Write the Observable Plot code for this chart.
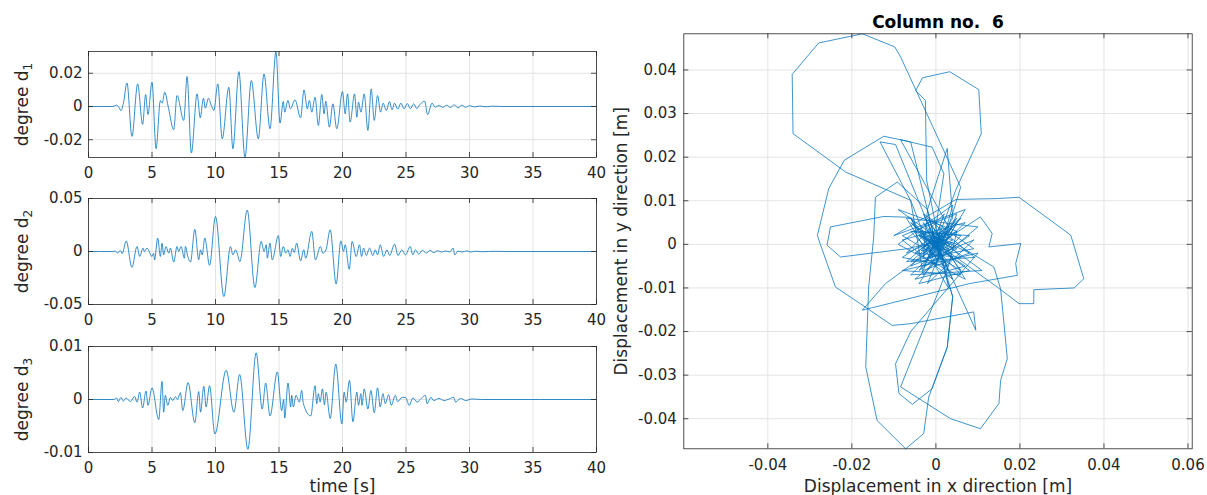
<!DOCTYPE html>
<html><head><meta charset="utf-8">
<script src="https://cdn.jsdelivr.net/npm/d3@7"></script>
<script src="https://cdn.jsdelivr.net/npm/@observablehq/plot@0.6"></script>
<style>
body{margin:0;background:#fff;}
#wrap{position:relative;width:1207px;height:495px;overflow:hidden;font-family:"DejaVu Sans",sans-serif;background:#fff;}
#wrap svg{position:absolute;overflow:visible;}
#wrap svg text{white-space:pre;}
</style></head><body><div id="wrap"></div>
<script>
// ---------- data ----------
const timeTicks = [0,5,10,15,20,25,30,35,40];
const d1Ticks = [-0.02, 0, 0.02];
const d2Ticks = [-0.05, 0, 0.05];
const d3Ticks = [-0.01, 0, 0.01];
const dispXTicks = [-0.04,-0.02,0,0.02,0.04,0.06];
const dispYTicks = [-0.04,-0.03,-0.02,-0.01,0,0.01,0.02,0.03,0.04];

// [time s, degree d1]
const degree1 = [[0,0],[1.9,0],[2.2,0.0008],[2.4,-0.0005],[2.55,-0.0025],[2.75,0.002],
[3.03,0.0142],[3.42,-0.018],[3.87,0.0136],[4.26,-0.0108],[4.5,0.0072],[4.68,-0.0048],[5.0,0.0146],[5.32,-0.0254],[5.66,0.0036],[5.8,0.002],[6.0,0.0086],[6.3,-0.001],[6.71,-0.014],[6.97,0.0066],[7.5,-0.0084],[7.76,0.018],[8.1,-0.028],[8.55,0.0076],[8.8,-0.0068],[9.05,0.005],[9.2,-0.001],[9.45,0.005],[9.65,0.001],[9.87,-0.0024],[10.18,0.0136],[10.53,-0.0194],[11.05,0.0116],[11.37,-0.0254],[11.84,0.021],[12.32,-0.0306],[12.82,0.0156],[13.37,-0.0194],[13.82,0.0196],[14.29,-0.0134],[14.76,0.033],[15.08,-0.01],[15.34,0.003],[15.45,-0.0034],[15.7,0.0036],[15.9,-0.0014],
[16.26,0.004],[16.7,-0.0068],[16.97,0.01],[17.23,-0.0014],[17.39,0.0036],[17.58,-0.0034],[17.84,0.0056],[18.1,-0.0114],[18.37,0.0072],[18.55,-0.0044],[18.68,0.0032],[18.97,-0.0124],[19.24,0.0016],[19.55,-0.0134],[20.0,0.009],[20.21,-0.0044],[20.4,0.0076],[20.6,-0.0094],[20.95,0.0076],[21.13,-0.0064],[21.26,0.0026],[21.45,-0.0034],[21.71,0.0076],[22.0,-0.0144],[22.26,0.0106],[22.5,-0.0084],[22.76,0.0066],[23.0,-0.0034],[23.2,0.002],[23.45,-0.0024],[23.7,0.003],[23.9,-0.002],[24.1,0.002],[24.35,-0.0016],[24.6,0.002],[24.85,-0.0014],[25.1,0.0018],[25.35,-0.0014],[25.6,0.0016],[25.85,-0.0012],[26.1,0.0012],[26.47,0.0032],[26.7,-0.0048],[27.05,0.002],[27.3,-0.0004],[27.6,0.0006],[27.9,-0.0005],[28.2,0.0008],[28.5,-0.0006],[28.8,0.001],[29.1,-0.0008],[29.4,0.0008],[29.7,-0.0005],[30.0,0.0005],[30.4,-0.0003],[30.8,0.0003],[31.3,-0.0002],[31.8,0.0002],[32.5,0],[40,0]];

// [time s, degree d2]
const degree2 = [[0,0],[1.9,0],[2.1,0.0005],[2.3,-0.0015],[2.5,0.001],[2.65,-0.002],
[2.97,0.010],[3.42,-0.015],[3.82,0.0047],[4.03,-0.0047],[4.29,0.0032],[4.4,0.0],[4.61,0.0032],[5.0,-0.0047],[5.13,-0.0016],[5.2,-0.008],[5.45,0.0126],[5.66,-0.0047],[5.79,0.0079],[5.92,-0.0032],[6.1,0.0047],[6.32,-0.0016],[6.45,0.0032],[6.71,-0.01],[6.97,0.0047],[7.1,0.0],[7.29,0.0047],[7.55,-0.0063],[7.63,0.0047],[7.82,-0.0047],[8.03,-0.01],[8.37,0.021],[8.68,-0.0079],[8.82,0.0016],[8.95,-0.0032],[9.16,0.0126],[9.53,-0.013],[10.0,0.033],[10.66,-0.0425],[11.18,0.0047],[11.37,-0.0032],[11.58,0.0016],[11.71,-0.0016],[11.92,-0.0095],[12.5,0.039],[13.1,-0.034],[13.6,0.0095],[13.82,0.0],[14.0,0.0063],[14.08,-0.0063],[14.29,0.0079],[14.47,-0.0079],[14.95,0.015],[15.13,-0.0047],[15.34,0.0047],[15.53,-0.0016],[15.71,0.0016],[15.87,-0.0047],[16.05,0.003],[16.2,-0.001],[16.39,0.0079],[16.7,-0.0088],[16.95,0.0016],[17.1,-0.0063],[17.58,0.019],[17.87,-0.0079],[18.26,0.0047],[18.45,-0.0016],[18.7,0.0016],[19.03,0.0205],[19.5,-0.0306],[19.87,0.01],[20.08,0.0],[20.21,0.0063],[20.53,-0.0167],[20.76,0.0095],[21.08,-0.0047],[21.34,0.0063],[21.5,-0.0047],[21.66,0.0032],[21.87,-0.0038],[22.13,0.0032],[22.39,-0.0038],[22.58,0.0016],[22.76,-0.0032],[22.97,0.0063],[23.24,-0.0047],[23.5,0.0016],[23.71,-0.0038],[24.1,0.0069],[24.37,-0.0038],[24.68,0.0016],[24.95,-0.0032],[25.34,0.0047],[25.53,-0.0032],[25.74,0.0016],[26.0,-0.0025],[26.3,0.0012],[26.6,-0.0015],[26.9,0.001],[27.2,-0.001],[27.5,0.0008],[27.8,-0.0006],[28.1,0.0005],[28.45,-0.0004],[28.71,0.0032],[28.84,-0.0032],[29.1,0.0005],[29.4,-0.0005],[29.8,0.0006],[30.1,-0.0005],[30.5,0.0003],[31,-0.0002],[32,0.0002],[33,0],[40,0]];

// [time s, degree d3]
const degree3 = [[0,0],[2.0,0],[2.2,0.0003],[2.35,-0.0004],[2.55,0.0004],[2.75,-0.0003],[2.95,0.0003],[3.3,-0.0004],[3.63,0.0006],[3.82,-0.0005],[4.03,0.0014],[4.26,-0.0016],[4.53,0.0016],[4.68,-0.0011],[5.0,0.0022],[5.53,-0.0038],[5.79,0.0034],[5.92,-0.0024],[6.05,0.0008],[6.24,-0.0011],[6.45,0.0004],[6.63,-0.0002],[6.85,0.0005],[7.0,0.0],[7.24,0.0013],[7.42,-0.0021],[7.84,0.0032],[8.37,-0.0044],[8.68,0.0015],[8.82,-0.0024],[9.08,0.0025],[9.26,-0.0014],[9.53,0.0026],[9.95,-0.0065],[10.84,0.0055],[11.45,-0.0024],[11.9,0.0047],[12.55,-0.0094],[13.2,0.0088],[13.68,-0.0018],[13.95,0.0031],[14.29,-0.0031],[14.87,0.0052],[15.21,-0.0021],[15.37,0.0],[15.45,-0.0035],[15.71,0.0031],[15.92,-0.0014],
[16.0,0.0008],[16.13,-0.0014],[16.34,0.0008],[16.6,-0.0005],[16.79,0.0017],[16.92,-0.0008],[17.5,-0.0031],[17.84,0.0026],[17.97,-0.0008],[18.1,0.0011],[18.24,-0.0005],[18.42,0.002],[18.58,-0.001],[18.71,0.0014],[19.03,-0.0036],[19.47,0.0067],[19.95,-0.0046],[20.13,0.0014],[20.29,-0.0005],[20.55,0.0036],[20.82,-0.0042],[21.13,0.0014],[21.26,-0.0011],[21.45,0.0011],[21.53,-0.0011],[21.71,0.002],[22.0,-0.0018],[22.24,0.0017],[22.5,-0.0025],[22.76,0.0022],[22.97,-0.0014],[23.18,0.0011],[23.37,-0.0008],[23.63,0.0009],[23.84,-0.0011],[24.16,0.0008],[24.34,-0.0004],[24.7,0.0004],[24.95,0.0004],[25.26,-0.0011],[25.55,0.0003],[25.87,-0.0005],[26.2,0.0002],[26.53,0.0008],[26.66,-0.0008],[26.97,0.0004],[27.18,-0.0002],[27.6,0.0002],[28.0,-0.0002],[28.4,0.0001],[28.76,0.0004],[28.9,-0.0005],[29.3,0.0002],[29.7,-0.0002],[30.2,0.0001],[31,0],[40,0]];

// orbit of column 6, [x mm, y mm] in time order
const orbitMM = [[0,0],[0.3,0.2],[-0.4,-0.3],[0.8,0.5],[-1,-0.6],[1.5,0.3],[-1.2,1],[0.5,-1.5],[2,1],[-2.5,-0.5],[1,2.5],[-1.5,-2],[3,-1],[-3,1.5],[2,3],[-1,-3],[4,0.5],[-3.5,-1.5],[1,4],[0.5,-4],
[-6,6],[3,-5],[5,3],[-7,-2],[2,7],[-3,-6],[8,-2],[-5,4],
[-6,6.2],[-12.4,6.4],[-25.1,4],[-25.9,-0.2],[-22.7,-2.9],[-6.8,-1],[2,1],
[4,-3],[-4,3],[6,2],[-3,-7],
[-6,10],[-13.3,23.5],[-9.6,22.9],[-5,12],[1,-2],
[-3,5],[6,-6],[-8,2],[5,7],[-2,-9],[9,1],[-6,-5],[3,4],
[-8.4,24],[-0.9,22.3],[1.9,16.2],[0,4],[-3,-3],
[-2,8],[-9.2,14.3],[-14.4,10.8],[-14.8,1.7],[-15.5,-5],[-16,-9.8],[-16.7,-28.1],[-14,-40.4],[-7.2,-46.9],[-2.9,-43.4],[-1.7,-35],[2.7,-23.6],[4,-12],[1,-2],
[5,5],[-6,-4],[9.2,-3],[-2,6],[7,-8],[-9,0],[4,9],[0,-5],
[-6,10.1],[-21.5,16.6],[-34,25.4],[-34.2,39],[-27.9,46.2],[-17.5,48.3],[-9.8,45.3],[-8.4,43],[5.9,13.1],[2,1],
[-4,2],[7,-5],[-5,-8],[10,4],[-7,6],[3,-10],
[-2.2,14.7],[-2.5,33],[-4.8,35.3],[-3.2,38.2],[3.3,39.6],[10.2,35.5],[10.8,25.4],[4.7,12.4],[0,0],
[-6,23.5],[-12.4,24.8],[-21.8,19.3],[-25.5,12.8],[-28.2,2.1],[-27.5,0],[-23.9,-9.8],[-18,-13.6],[-10.4,-18.6],[-6,-18.2],[9,-15.5],[9.5,-19.7],[4,-8],[0,0],
[6,6],[-8,-3],[3,-5],[-8.4,-32.7],[3.5,-40],[10.6,-42.3],[15,-36.5],[15.4,-31.2],[17,-26.2],[15.4,-10.2],[13.8,-5.2],[5,0],
[-5,3],[8,-6],[-4,-9],[7,8],[-10,2],
[4.8,10.3],[14.6,10.5],[19.8,10.8],[32.1,2.1],[35.2,-7.9],[32.9,-10],[23.3,-10.4],[23.3,-13.6],[19.8,-13.6],[14.6,-9.8],[2,-1],
[-6,5],[6,-7],[-8,-6],[10,-2],
[-6,-20],[-9.6,-27.4],[-8.8,-34.2],[-5.6,-36.7],[-0.9,-33.1],[2.7,-23.6],[4,-12],[0,0],
[-2,8],[2.7,22],[4,6],[-1,-1],
[10.6,6.3],[13.4,2.5],[12.6,-0.6],[20.2,0.2],[19,-4.4],[19.4,-7.1],[8,-9],
[-17.5,-15.1],[-12,-9],[5,3],
[-9,8],[11,-6],[-6,-7],[7,5],[-8,1],[4,-8],[-3,7],[9,-1],[-7,-4],[5,6],[-4,-6],[8,2],[-6,3],[3,-6],[-2,5],[6,-3],[-5,-2],[4,4],[-3,-5],[5,-1],[-4,2],[2,-4],[-2,3],[4,1],[-3,-2],[3,3],[-2,-3],[2,-1],[-2,1],[1.5,2],[-1.5,-1.5],[1,-1],[-1,1],[0.6,0.8],[-0.6,-0.5],[0.4,-0.3],[-0.3,0.3],[0.1,0],[0,0]];

// ---------- drawing ----------
const FONT = '"DejaVu Sans", sans-serif';
const INK = "#262626";
const GRID = "#e3e3e3";
const BLUE = "#0072BD";
const wrap = document.getElementById("wrap");
const fmt = d => String(d);
const centered = {textAnchor: "middle", lineAnchor: "middle", fill: INK};

function place(svg, left, top) {
  svg.style.position = "absolute";
  svg.style.left = left + "px";
  svg.style.top = top + "px";
  wrap.appendChild(svg);
}

function timePanel(series, yDomain, yTicks, subIndex, top, mb, xLabel) {
  const W = 610, mt = 20, fh = 106, ml = 88, mr = W - 596;
  const fw = W - ml - mr;
  const data = series.map(([t, v]) => ({t, v}));
  const label = "degree d" + subIndex;
  const marks = [
    Plot.gridX(timeTicks, {stroke: GRID, strokeOpacity: 1}),
    Plot.gridY(yTicks, {stroke: GRID, strokeOpacity: 1}),
    Plot.line(data, {x: "t", y: "v", stroke: BLUE, strokeWidth: 0.8, curve: "monotone-x"}),
    Plot.tickX(timeTicks, {x: d => d, insetTop: fh - 5, stroke: INK, strokeWidth: 0.8}),
    Plot.tickX(timeTicks, {x: d => d, insetBottom: fh - 5, stroke: INK, strokeWidth: 0.8}),
    Plot.tickY(yTicks, {y: d => d, insetRight: fw - 5, stroke: INK, strokeWidth: 0.8}),
    Plot.tickY(yTicks, {y: d => d, insetLeft: fw - 5, stroke: INK, strokeWidth: 0.8}),
    Plot.axisX(timeTicks, {tickSize: 0, tickPadding: 10, tickFormat: fmt, label: null}),
    Plot.axisY(yTicks, {tickSize: 0, tickPadding: 6, tickFormat: fmt, label: null}),
    Plot.frame({stroke: INK, strokeWidth: 0.8}),
    Plot.text([label], {...centered, frameAnchor: "left", dx: -66, rotate: -90, fontSize: 17})
  ];
  if (xLabel) marks.push(Plot.text([xLabel], {...centered, frameAnchor: "bottom", dy: 34, fontSize: 17}));
  const svg = Plot.plot({
    width: W, height: mt + fh + mb,
    marginLeft: ml, marginRight: mr, marginTop: mt, marginBottom: mb,
    style: {fontFamily: FONT, fontSize: "15px", color: INK, background: "transparent", overflow: "visible"},
    x: {domain: [0, 40]},
    y: {domain: yDomain},
    marks
  });
  d3.select(svg).selectAll("text").filter(function() { return this.textContent === label; })
    .each(function() {
      const t = d3.select(this);
      t.text("degree d");
      t.append("tspan").attr("dy", "0.35em").attr("font-size", "12px").text(String(subIndex));
    });
  place(svg, 0, top);
}

timePanel(degree1, [-0.0307, 0.0331], d1Ticks, 1, 31, 30, null);
timePanel(degree2, [-0.05, 0.05], d2Ticks, 2, 178, 30, null);
timePanel(degree3, [-0.01, 0.01], d3Ticks, 3, 326, 50, "time [s]");

// orbit panel
{
  const W = 597, H = 495, ml = 73.3, mr = 15.3, mt = 33.3, mb = 46.7;
  const fw = W - ml - mr, fh = H - mt - mb;
  const orbit = orbitMM.map(([x, y]) => ({x: x / 1000, y: y / 1000}));
  const svg = Plot.plot({
    width: W, height: H, marginLeft: ml, marginRight: mr, marginTop: mt, marginBottom: mb,
    style: {fontFamily: FONT, fontSize: "15px", color: INK, background: "transparent", overflow: "visible"},
    x: {domain: [-0.06, 0.061]},
    y: {domain: [-0.0469, 0.0483]},
    marks: [
      Plot.gridX(dispXTicks, {stroke: GRID, strokeOpacity: 1}),
      Plot.gridY(dispYTicks, {stroke: GRID, strokeOpacity: 1}),
      Plot.line(orbit, {x: "x", y: "y", stroke: BLUE, strokeWidth: 0.75}),
      Plot.tickX(dispXTicks, {x: d => d, insetTop: fh - 5, stroke: INK, strokeWidth: 0.8}),
      Plot.tickX(dispXTicks, {x: d => d, insetBottom: fh - 5, stroke: INK, strokeWidth: 0.8}),
      Plot.tickY(dispYTicks, {y: d => d, insetRight: fw - 5, stroke: INK, strokeWidth: 0.8}),
      Plot.tickY(dispYTicks, {y: d => d, insetLeft: fw - 5, stroke: INK, strokeWidth: 0.8}),
      Plot.axisX(dispXTicks, {tickSize: 0, tickPadding: 11, tickFormat: fmt, label: null}),
      Plot.axisY(dispYTicks, {tickSize: 0, tickPadding: 7, tickFormat: fmt, label: null}),
      Plot.frame({stroke: INK, strokeWidth: 0.8}),
      Plot.text(["Column no.  6"], {...centered, frameAnchor: "top", dy: -11, fontSize: 17, fontWeight: "bold", fill: "#000"}),
      Plot.text(["Displacement in y direction [m]"], {...centered, frameAnchor: "left", dx: -62, rotate: -90, fontSize: 17}),
      Plot.text(["Displacement in x direction [m]"], {...centered, frameAnchor: "bottom", dy: 38, fontSize: 17})
    ]
  });
  place(svg, 610, 0);
}
</script></body></html>
